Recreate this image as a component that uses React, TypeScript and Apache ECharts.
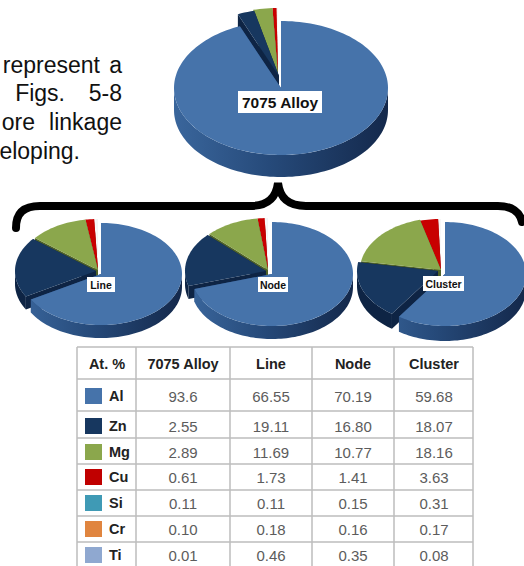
import React, { useEffect, useRef } from "react";
import * as echarts from "echarts";

// Composition of the alloy and of the three precipitate sites (at. %)
const elements = ["Al", "Zn", "Mg", "Cu", "Si", "Cr", "Ti"];
const columnHeads = ["At. %", "7075 Alloy", "Line", "Node", "Cluster"];
const alloy = [93.6, 2.55, 2.89, 0.61, 0.11, 0.1, 0.01];
const line = [66.55, 19.11, 11.69, 1.73, 0.11, 0.18, 0.46];
const node = [70.19, 16.8, 10.77, 1.41, 0.15, 0.16, 0.35];
const cluster = [59.68, 18.07, 18.16, 3.63, 0.31, 0.17, 0.08];
const alloyCells = ["93.6", "2.55", "2.89", "0.61", "0.11", "0.10", "0.01"];
const lineCells = ["66.55", "19.11", "11.69", "1.73", "0.11", "0.18", "0.46"];
const nodeCells = ["70.19", "16.80", "10.77", "1.41", "0.15", "0.16", "0.35"];
const clusterCells = ["59.68", "18.07", "18.16", "3.63", "0.31", "0.17", "0.08"];

const SWATCH = ["#4673aa", "#17375f", "#8ba74c", "#c00000", "#3f9ab5", "#e0853f", "#8fa8d0"];
// The three trace elements are hairline wedges that read as a pale gap in the pies
const FACE = ["#4673aa", "#17375f", "#8ba74c", "#c80000", "#f4f4f4", "#f4f4f4", "#f4f4f4"];
const WALL = ["#27497a", "#0e2444", "#4f6228", "#7a0000", "#ffffff", "#ffffff", "#ffffff"];
const SANS = '"Liberation Sans", Arial, sans-serif';

type Pie = {
  values: number[];
  cx: number;
  cy: number;
  rx: number;
  ry: number;
  depth: number;
  shift: number[][];
};

// Elliptical pies with a side wall; shift pulls each wedge away from the centre.
const pies: Pie[] = [
  {
    values: alloy, cx: 280, cy: 88, rx: 107, ry: 67, depth: 22,
    shift: [[1, 0], [-1, -12], [-2, -13], [-2, -13], [-2, -13], [-2, -13], [-2, -13]],
  },
  {
    values: line, cx: 99, cy: 274, rx: 81, ry: 51, depth: 13,
    shift: [[2, 0], [-3, -3], [-1, -4], [-1, -4], [-1, -4], [-1, -4], [-1, -4]],
  },
  {
    values: node, cx: 270, cy: 274, rx: 81, ry: 52, depth: 13,
    shift: [[2, 0], [-4, -3], [-2, -4], [-2, -4], [-2, -4], [-2, -4], [-2, -4]],
  },
  {
    values: cluster, cx: 442, cy: 274, rx: 81, ry: 52, depth: 15,
    shift: [[3, 0], [-4, -3], [-1, -4], [-1, -3], [-1, -3], [-1, -3], [-1, -3]],
  },
];

const arcPoint = (p: Pie, deg: number, dx: number, dy: number) => {
  const a = (deg * Math.PI) / 180;
  return [p.cx + dx + p.rx * Math.sin(a), p.cy + dy - p.ry * Math.cos(a)];
};

function pieSeries(p: Pie) {
  const total = p.values.reduce((s, v) => s + v, 0);
  const order = p.values.map((v, i) => [i, v]).reverse();
  return {
    type: "custom",
    coordinateSystem: "none",
    silent: true,
    data: order,
    renderItem: (_params: any, api: any) => {
      const i = api.value(0);
      const before = p.values.slice(0, i).reduce((s, v) => s + v, 0);
      const start = (before / total) * 360;
      const end = ((before + api.value(1)) / total) * 360;
      const [dx, dy] = p.shift[i];
      const arc = (from: number, to: number, oy: number) => {
        const pts: number[][] = [];
        const n = Math.max(2, Math.ceil((to - from) / 2));
        for (let k = 0; k <= n; k++) pts.push(arcPoint(p, from + ((to - from) * k) / n, dx, dy + oy));
        return pts;
      };
      const apex = [p.cx + dx, p.cy + dy];
      const apexLow = [apex[0], apex[1] + p.depth];
      const children: any[] = [];
      for (const deg of [start, end]) {
        const rim = arcPoint(p, deg, dx, dy);
        const rimLow = arcPoint(p, deg, dx, dy + p.depth);
        children.push({
          type: "polygon",
          shape: { points: [apex, rim, rimLow, apexLow] },
          style: { fill: WALL[i] },
        });
      }
      const wallFrom = Math.max(start, 90);
      const wallTo = Math.min(end, 270);
      if (wallTo > wallFrom) {
        children.push({
          type: "polygon",
          shape: { points: [...arc(wallFrom, wallTo, 0), ...arc(wallFrom, wallTo, p.depth).reverse()] },
          style: {
            fill: {
              type: "linear", global: true,
              x: p.cx - p.rx, y: 0, x2: p.cx + p.rx, y2: 0,
              colorStops: [
                { offset: 0, color: i === 0 ? "#3a669c" : WALL[i] },
                { offset: 0.45, color: i === 0 ? "#264a7a" : WALL[i] },
                { offset: 1, color: i === 0 ? "#14294c" : WALL[i] },
              ],
            },
          },
        });
      }
      children.push({
        type: "polygon",
        shape: { points: [apex, ...arc(start, end, 0)] },
        style: { fill: FACE[i] },
      });
      return { type: "group", children };
    },
  };
}

const TOP = 100;
const txt = (text: string, x: number, y: number, size: number, opts: any = {}) => ({
  type: "text",
  z: TOP + 2,
  x,
  y,
  silent: true,
  style: {
    text,
    fontFamily: SANS,
    fontSize: size,
    fontWeight: opts.weight ?? "normal",
    fill: opts.fill ?? "#111",
    textAlign: opts.align ?? "center",
    textVerticalAlign: "middle",
  },
});

const box = (x: number, y: number, w: number, h: number, fill: string, z = TOP) => ({
  type: "rect",
  z,
  silent: true,
  shape: { x, y, width: w, height: h },
  style: { fill },
});

// Justified paragraph fragment to the left of the main pie
const paragraph = [
  txt("represent", 100, 65, 23, { align: "right" }),
  txt("a", 122, 65, 23, { align: "right" }),
  txt("Figs.", 65, 93, 23, { align: "right" }),
  txt("5-8", 122, 93, 23, { align: "right" }),
  txt("ore", 35, 122, 23, { align: "right" }),
  txt("linkage", 122, 122, 23, { align: "right" }),
  txt("eloping.", 80, 151, 23, { align: "right" }),
];

const pieTags = [
  { text: "7075 Alloy", x: 238, y: 91, w: 84, h: 22, size: 15.5 },
  { text: "Line", x: 87, y: 277, w: 28, h: 15, size: 10.5 },
  { text: "Node", x: 258, y: 277, w: 30, h: 15, size: 10.5 },
  { text: "Cluster", x: 423, y: 276, w: 41, h: 15, size: 10.5 },
].flatMap((t) => [
  box(t.x, t.y, t.w, t.h, "#ffffff"),
  txt(t.text, t.x + t.w / 2, t.y + t.h / 2 + 0.5, t.size, { weight: "bold" }),
]);

const braceD =
  "M16 228 C16 213 24 206 40 206 L250 206 C268 206 276 198 278 183 C280 198 288 206 306 206 L498 206 C512 206 520 212 522 222";
echarts.graphic.registerShape("brace", echarts.graphic.extendPath(braceD, {}) as any);

// Table geometry
const colX = [77, 136, 230, 312, 394, 473];
const rowY = [347, 379, 411, 438, 464, 490, 516, 542, 566];
const rowMid = [396, 426, 452, 477, 503, 529, 555];
const colMid = [107, 183, 271, 353, 434];
const columns = [alloyCells, lineCells, nodeCells, clusterCells];

const rule = (x1: number, y1: number, x2: number, y2: number) => ({
  type: "line",
  z: TOP,
  silent: true,
  shape: { x1, y1, x2, y2 },
  style: { stroke: "#bdbdbd", lineWidth: 1.5 },
});

const table = [
  ...colX.map((x) => rule(x, rowY[0], x, rowY[rowY.length - 1])),
  ...rowY.slice(0, -1).map((y) => rule(colX[0], y, colX[colX.length - 1], y)),
  ...columnHeads.map((h, c) => txt(h, colMid[c], 364, 14.5, { weight: "bold", fill: "#222" })),
  ...elements.flatMap((el, r) => [
    box(85, rowMid[r] - 8, 17, 16, SWATCH[r]),
    txt(el, 109, rowMid[r], 14.5, { weight: "bold", fill: "#222", align: "left" }),
    ...columns.map((col, c) => txt(col[r], colMid[c + 1], rowMid[r], 15, { fill: "#5c5c5c" })),
  ]),
];

export default function App() {
  const ref = useRef<HTMLDivElement>(null);
  useEffect(() => {
    const chart = echarts.init(ref.current!, undefined, { renderer: "svg" });
    chart.setOption({
      animation: false,
      backgroundColor: "#ffffff",
      series: pies.map(pieSeries),
      graphic: {
        elements: [
          ...paragraph,
          {
            type: "brace",
            z: TOP,
            silent: true,
            style: { fill: "none", stroke: "#000000", lineWidth: 8, lineCap: "round" },
          },
          ...pieTags,
          ...table,
        ],
      },
    });
    return () => chart.dispose();
  }, []);
  return <div ref={ref} style={{ position: "fixed", left: 0, top: 0, width: 524, height: 566 }} />;
}
